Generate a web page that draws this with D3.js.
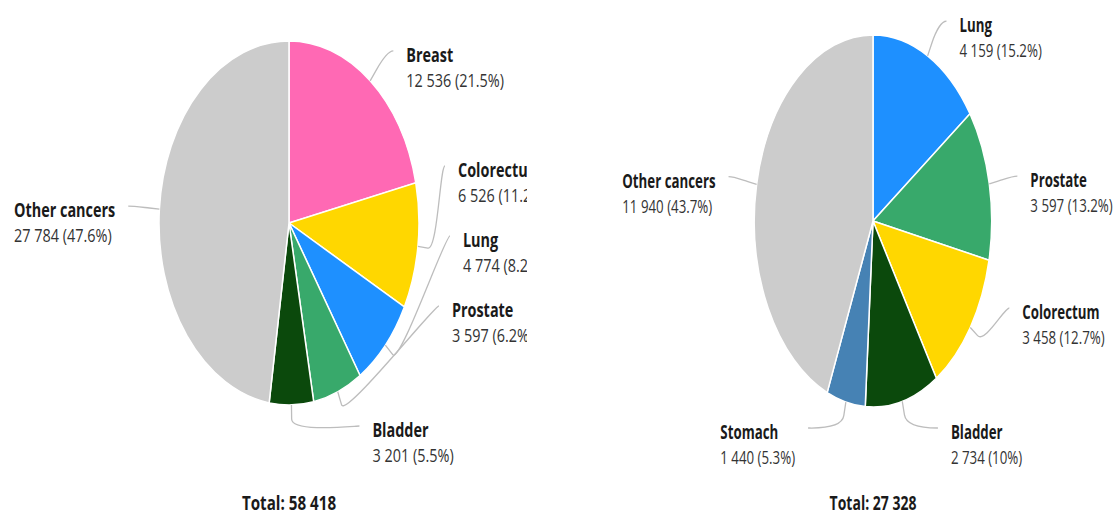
<!DOCTYPE html>
<html>
<head>
<meta charset="utf-8">
<script src="https://cdn.jsdelivr.net/npm/d3@7"></script>
<style>
  html, body { margin: 0; padding: 0; background: #fff; }
  svg { display: block; }
</style>
</head>
<body>
<svg id="chart"></svg>
<script>
// left pie
const sites_left = ["Breast", "Colorectum", "Lung", "Prostate", "Bladder", "Other cancers"]
const counts_left = [12536, 6526, 4774, 3597, 3201, 27784]

// right pie
const sites_right = ["Lung", "Prostate", "Colorectum", "Bladder", "Stomach", "Other cancers"]
const counts_right = [4159, 3597, 3458, 2734, 1440, 11940]

const site_colors = {
	"Breast": "#ff69b4",
	"Colorectum": "#ffd700",
	"Lung": "#1e90ff",
	"Prostate": "#38a96b",
	"Bladder": "#0b490c",
	"Stomach": "#4682b4",
	"Other cancers": "#cccccc"
}

const width = 1115
const height = 518
const font_family = "'Open Sans', 'Noto Sans', sans-serif"

const locale = d3.formatLocale({ decimal: ".", thousands: " ", grouping: [3], currency: ["", ""] })
const fmt_count = locale.format(",d")
const fmt_pct = (v) => d3.format(".1f")(v).replace(/\.0$/, "")

const svg = d3.select("#chart")
	.attr("width", width)
	.attr("height", height)
	.style("background-color", "#fff")

const defs = svg.append("defs")

const draw_pie = (config) => {
	const total = d3.sum(config.counts)
	const data = config.sites.map((site, i) => ({ site: site, count: config.counts[i] }))
	const arcs = d3.pie().sort(null).value(d => d.count)(data)
	const sx = config.rx / config.ry

	defs.append("clipPath")
		.attr("id", config.id + "-clip")
		.append("rect")
		.attr("x", config.clip[0]).attr("y", 0)
		.attr("width", config.clip[1] - config.clip[0]).attr("height", height)

	const root = svg.append("g")
		.attr("clip-path", `url(#${config.id}-clip)`)

	// slices (drawn on a circle, squeezed horizontally)
	const arc = d3.arc().innerRadius(0).outerRadius(config.ry)
	root.append("g")
		.attr("transform", `translate(${config.cx},${config.cy}) scale(${sx},1)`)
		.selectAll("path")
		.data(arcs)
		.join("path")
		.attr("d", arc)
		.attr("vector-effect", "non-scaling-stroke")
		.style("fill", d => site_colors[d.data.site])
		.style("stroke", "#fff")
		.style("stroke-width", 1.5)

	// label layout
	const label_rx = config.rx * 1.24
	const label_ry = config.ry * 1.24
	const natural_ry = config.ry * 1.21
	const bottom = config.cy + config.ry + 21
	const top = 14

	const labels = arcs.map(d => {
		const mid = (d.startAngle + d.endAngle) / 2
		const natural = config.cy - natural_ry * Math.cos(mid)
		return {
			d: d,
			mid: mid,
			side: mid <= Math.PI ? 1 : -1,
			y: Math.max(top, Math.min(bottom, natural))
		}
	})

	// push labels up so they do not overlap
	;[1, -1].forEach(side => {
		const group = labels.filter(l => l.side === side).sort((a, b) => a.y - b.y)
		for (let i = group.length - 2; i >= 0; i--) {
			const gap = group[i + 1].y >= bottom - 1 ? 120 : 70
			group[i].y = Math.min(group[i].y, group[i + 1].y - gap)
		}
	})

	labels.forEach(l => {
		const t = Math.max(-1, Math.min(1, (l.y - config.cy) / label_ry))
		l.x = config.cx + l.side * label_rx * Math.sqrt(1 - t * t)
	})

	// connectors
	const conn = root.append("g")
	labels.forEach(l => {
		const sin = Math.sin(l.mid), cos = Math.cos(l.mid)
		const tx = config.cx + config.rx * sin
		const ty = config.cy - config.ry * cos
		const bx = config.cx + (config.ry + 14) * sx * sin
		const by = config.cy - (config.ry + 14) * cos
		const path = d3.path()
		path.moveTo(l.x, l.y)
		path.bezierCurveTo(l.x - l.side * 5, l.y, 2 * bx - tx, 2 * by - ty, bx, by)
		path.lineTo(tx, ty)
		conn.append("path")
			.attr("d", path.toString())
			.style("fill", "none")
			.style("stroke", "#bdbdbd")
			.style("stroke-width", 1.3)
	})

	// label texts
	labels.forEach(l => {
		const g = root.append("g")
			.attr("transform", `translate(${l.x + l.side * 13},${l.y}) scale(${config.text_scale},1)`)
		const name = g.append("text")
			.attr("y", 11)
			.text(l.d.data.site)
			.style("font-family", font_family)
			.style("font-size", "19px")
			.style("font-weight", "bold")
			.style("fill", "#1a1a1a")
		const value = g.append("text")
			.attr("y", 36)
			.text(`${fmt_count(l.d.data.count)} (${fmt_pct(l.d.data.count / total * 100)}%)`)
			.style("font-family", font_family)
			.style("font-size", "19px")
			.style("fill", "#333")
		if (l.side < 0) {
			const w = Math.max(name.node().getComputedTextLength(), value.node().getComputedTextLength())
			name.attr("x", -w)
			value.attr("x", -w)
		}
	})

	// total
	root.append("text")
		.attr("transform", `translate(${config.cx},510) scale(${config.text_scale},1)`)
		.attr("text-anchor", "middle")
		.text("Total: " + fmt_count(total))
		.style("font-family", font_family)
		.style("font-size", "20px")
		.style("font-weight", "bold")
		.style("fill", "#1a1a1a")
}

draw_pie({
	id: "left", sites: sites_left, counts: counts_left,
	cx: 289, cy: 223, rx: 130, ry: 182, text_scale: 0.76, clip: [0, 527]
})

draw_pie({
	id: "right", sites: sites_right, counts: counts_right,
	cx: 873, cy: 221, rx: 118.7, ry: 186, text_scale: 0.7, clip: [557, 1115]
})
</script>
</body>
</html>
